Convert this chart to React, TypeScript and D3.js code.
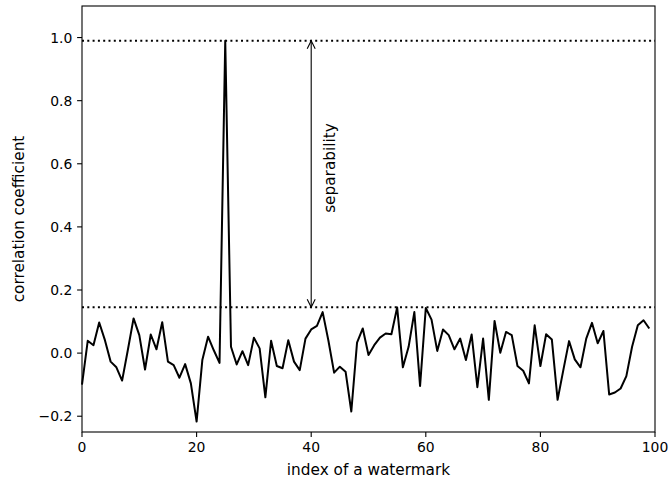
import React from "react";
import * as d3 from "d3";

// correlation of the detector against 100 candidate watermarks
const correlations = [
  -0.1, 0.039, 0.025, 0.097, 0.041, -0.027, -0.045, -0.087, 0.01, 0.11,
  0.057, -0.052, 0.059, 0.012, 0.098, -0.027, -0.038, -0.078, -0.035, -0.096,
  -0.217, -0.022, 0.052, 0.009, -0.031, 0.99, 0.02, -0.036, 0.006, -0.038,
  0.049, 0.015, -0.14, 0.039, -0.041, -0.048, 0.041, -0.027, -0.054, 0.046,
  0.075, 0.086, 0.13, 0.04, -0.062, -0.043, -0.059, -0.185, 0.033, 0.078,
  -0.006, 0.025, 0.049, 0.062, 0.06, 0.145, -0.045, 0.02, 0.13, -0.104,
  0.143, 0.106, 0.007, 0.075, 0.057, 0.012, 0.046, -0.022, 0.059, -0.108,
  0.046, -0.148, 0.102, 0.001, 0.067, 0.057, -0.041, -0.056, -0.096, 0.088,
  -0.041, 0.06, 0.043, -0.148, -0.054, 0.038, -0.02, -0.045, 0.046, 0.096,
  0.031, 0.07, -0.131, -0.125, -0.112, -0.073, 0.02, 0.088, 0.104, 0.078,
];

const xTicks = [0, 20, 40, 60, 80, 100];
const yTicks = [-0.2, 0, 0.2, 0.4, 0.6, 0.8, 1.0];
const arrowAt = 40;

const W = 670;
const H = 483;
const margin = { top: 6, right: 15, bottom: 51, left: 82 };
const font = "'DejaVu Sans', sans-serif";
const tickSize = 13.9;
const labelSize = 15.3;

export default function App() {
  const x = d3
    .scaleLinear()
    .domain([0, 100])
    .range([margin.left, W - margin.right]);
  const y = d3
    .scaleLinear()
    .domain([-0.25, 1.1])
    .range([H - margin.bottom, margin.top]);

  const peakIdx = d3.maxIndex(correlations);
  const peak = correlations[peakIdx];
  const second = d3.max(correlations.filter((_, i) => i !== peakIdx)) as number;

  const line = d3
    .line<number>()
    .x((_, i) => x(i))
    .y((d) => y(d));

  const fmt = (v: number) => d3.format(".1f")(v).replace("-", "\u2212");

  const x0 = margin.left;
  const x1 = W - margin.right;
  const y0 = H - margin.bottom;
  const y1 = margin.top;

  const ax = x(arrowAt);
  const aTop = y(peak);
  const aBot = y(second);

  return (
    <svg
      width={W}
      height={H}
      style={{ position: "absolute", left: 0, top: 0, background: "#fff" }}
      fontFamily={font}
    >
      {/* threshold lines */}
      {[peak, second].map((v, i) => (
        <line
          key={i}
          x1={x0}
          x2={x1}
          y1={y(v)}
          y2={y(v)}
          stroke="#000"
          strokeWidth={2}
          strokeDasharray="2,3.3"
        />
      ))}

      <path
        d={line(correlations) || ""}
        fill="none"
        stroke="#000"
        strokeWidth={2}
        strokeLinejoin="round"
      />

      {/* separability arrow */}
      <g stroke="#000" strokeWidth={1.1} fill="none">
        <line x1={ax} x2={ax} y1={aTop} y2={aBot} />
        <path d={`M${ax - 4},${aTop + 8}L${ax},${aTop}L${ax + 4},${aTop + 8}`} />
        <path d={`M${ax - 4},${aBot - 8}L${ax},${aBot}L${ax + 4},${aBot - 8}`} />
      </g>
      <text
        transform={`translate(${ax + 24},${(aTop + aBot) / 2 - 6}) rotate(-90)`}
        textAnchor="middle"
        fontSize={labelSize}
      >
        separability
      </text>

      {/* axes frame */}
      <rect
        x={x0}
        y={y1}
        width={x1 - x0}
        height={y0 - y1}
        fill="none"
        stroke="#000"
        strokeWidth={1.1}
      />

      {xTicks.map((t) => (
        <g key={t}>
          <line x1={x(t)} x2={x(t)} y1={y0} y2={y0 + 4.9} stroke="#000" strokeWidth={1.1} />
          <text x={x(t)} y={y0 + 20} textAnchor="middle" fontSize={tickSize}>
            {t}
          </text>
        </g>
      ))}
      {yTicks.map((t) => (
        <g key={t}>
          <line x1={x0 - 4.9} x2={x0} y1={y(t)} y2={y(t)} stroke="#000" strokeWidth={1.1} />
          <text x={x0 - 9.7} y={y(t) + 5} textAnchor="end" fontSize={tickSize}>
            {fmt(t)}
          </text>
        </g>
      ))}

      <text x={(x0 + x1) / 2} y={H - 8} textAnchor="middle" fontSize={labelSize}>
        index of a watermark
      </text>
      <text
        transform={`translate(24,${(y0 + y1) / 2}) rotate(-90)`}
        textAnchor="middle"
        fontSize={labelSize}
      >
        correlation coefficient
      </text>
    </svg>
  );
}
